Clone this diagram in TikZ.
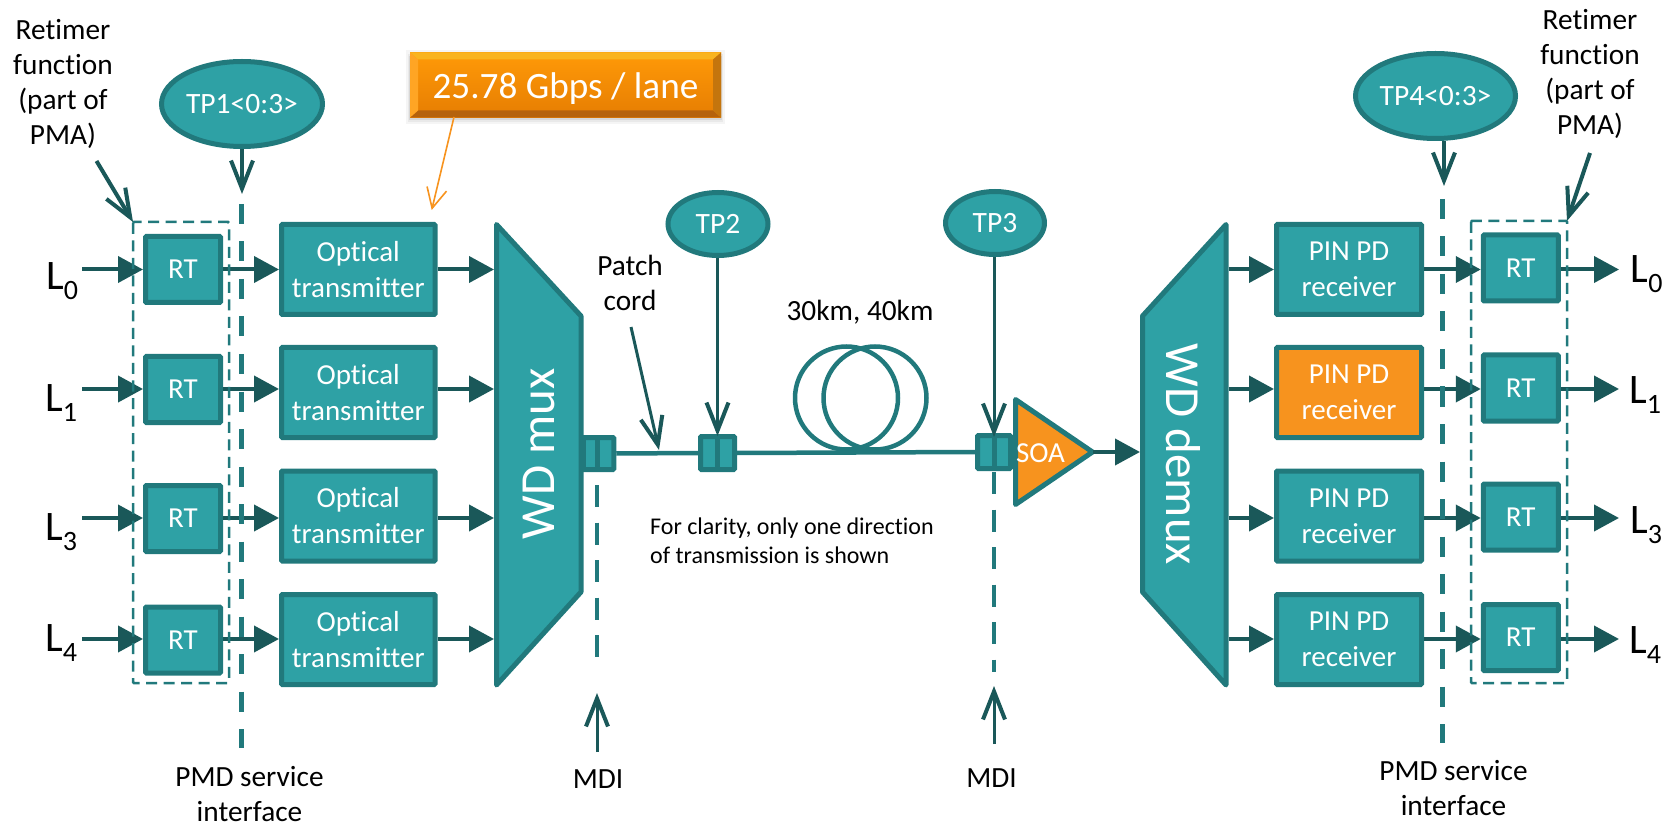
\documentclass[tikz,border=0pt]{standalone}
\usepackage{fontspec}
\setmainfont{Carlito}[Ligatures={NoCommon}]
\usetikzlibrary{arrows.meta,calc,shapes.geometric}
\definecolor{tealfill}{HTML}{2EA1A5}
\definecolor{tealline}{HTML}{21797C}
\definecolor{tealdark}{HTML}{1A5859}
\definecolor{orangefill}{HTML}{F7931E}
\definecolor{rateTop}{HTML}{FF9A08}
\definecolor{rateBot}{HTML}{E67D02}
\definecolor{bevelT}{HTML}{F9B41F}
\definecolor{bevelB}{HTML}{B5620C}
\definecolor{bevelL}{HTML}{FFA524}
\definecolor{bevelR}{HTML}{C4750D}
\newcommand{\fs}[2]{\fontsize{#1}{#2}\selectfont}
\newcommand{\Lab}[1]{L\raisebox{-10pt}{\fs{28}{28}#1}}
\tikzset{
  blockbase/.style={draw=tealline,line width=5pt,fill=tealfill,rounded corners=1pt,text=white,inner sep=0pt,align=center,font=\fs{29}{36}},
  rtbox/.style={blockbase,minimum width=75pt,minimum height=66pt},
  optbox/.style={blockbase,minimum width=153.5pt,minimum height=90pt},
  pinbox/.style={blockbase,minimum width=145pt,minimum height=90pt},
  fibrebox/.style={draw=tealline,line width=5pt,fill=tealfill,rounded corners=1pt,inner sep=0pt},
  tpoval/.style={ellipse,draw=tealline,line width=5pt,fill=tealfill,text=white,inner sep=0pt,font=\fs{29.5}{34}},
  flow/.style={draw=tealdark,line width=4pt,-{Triangle[length=25pt,width=26pt]}},
  pointer/.style={draw=tealdark,line width=4pt,-{Straight Barb[length=28pt,width=22pt,line width=4pt]}},
  thickdash/.style={draw=tealline,line width=5.5pt,dash pattern=on 20pt off 17.5pt},
  mdidash/.style={draw=tealline,line width=4.5pt,dash pattern=on 22pt off 15.5pt},
  boxdash/.style={draw=tealline,line width=2.5pt,dash pattern=on 11pt off 6.5pt},
  fibre/.style={draw=tealline,line width=4.5pt},
  wdtext/.style={text=white,font=\fs{49}{55}},
  plain/.style={text=black,align=center,inner sep=0pt,font=\fs{29.3}{35}},
  laneL/.style={text=black,anchor=base west,inner sep=0pt,font=\fs{42}{42}},
}
\begin{document}
\begin{tikzpicture}[x=1pt,y=-1pt]
\useasboundingbox (0,0) rectangle (1666,826);
% rows
\coordinate (row0) at (0,269.5);
\coordinate (row1) at (0,389);
\coordinate (row3) at (0,518);
\coordinate (row4) at (0,639);
% left blocks
\node[rtbox] (rt0) at (183,269.5) {RT};
\node[rtbox] (rt1) at (183,389.5) {RT};
\node[rtbox] (rt3) at (183,518.5) {RT};
\node[rtbox] (rt4) at (183,640) {RT};
\node[optbox] (opt0) at (358.25,269.5) {Optical\\transmitter};
\node[optbox] (opt1) at (358.25,392.5) {Optical\\transmitter};
\node[optbox] (opt3) at (358.25,516) {Optical\\transmitter};
\node[optbox] (opt4) at (358.25,639.5) {Optical\\transmitter};
% right blocks
\node[pinbox] (pin0) at (1349,269.5) {PIN PD\\receiver};
\node[pinbox,fill=orangefill] (pin1) at (1349,392.5) {PIN PD\\receiver};
\node[pinbox] (pin3) at (1349,516) {PIN PD\\receiver};
\node[pinbox] (pin4) at (1349,639.5) {PIN PD\\receiver};
\node[rtbox] (rr0) at (1520.75,268) {RT};
\node[rtbox] (rr1) at (1520.75,388) {RT};
\node[rtbox] (rr3) at (1520.75,517) {RT};
\node[rtbox] (rr4) at (1520.75,637.5) {RT};
% mux and demux
\coordinate (muxA) at (496.5,224.5);
\coordinate (muxB) at (581,316);
\coordinate (muxC) at (581,592);
\coordinate (muxD) at (496.5,685);
\coordinate (demA) at (1226,224.5);
\coordinate (demB) at (1142.5,316);
\coordinate (demC) at (1142.5,592);
\coordinate (demD) at (1226,685);
% fibre connectors and span
\node[fibrebox,minimum width=30.5pt,minimum height=32pt] (c1) at (598.5,453.5) {};
\node[fibrebox,minimum width=34pt,minimum height=33pt] (c2) at (717.5,453) {};
\node[fibrebox,minimum width=33pt,minimum height=33pt] (c3) at (994,452) {};
\draw[draw=tealline,line width=5pt] (c1.north -| 597,0) -- (c1.south -| 597,0);
\draw[draw=tealline,line width=5pt] (c2.north) -- (c2.south);
\draw[draw=tealline,line width=5pt] (c3.north) -- (c3.south);
\draw[fibre] (c1.east) -- (c2.west);
\draw[fibre] (c2.east) -- (c3.west);
\node[circle,draw=tealline,line width=4.5pt,minimum size=103pt,inner sep=0pt] (coilA) at (846.5,398) {};
\node[circle,draw=tealline,line width=4.5pt,minimum size=103pt,inner sep=0pt] (coilB) at (875,398) {};
\draw[blockbase,rounded corners=0pt,line join=round] (muxA) -- (muxB) -- (muxC) -- (muxD) -- cycle;
\draw[blockbase,rounded corners=0pt,line join=round] (demA) -- (demB) -- (demC) -- (demD) -- cycle;
\node[wdtext,rotate=90] (muxt) at (539,454) {WD mux};
\node[wdtext,rotate=-90] (demt) at (1183,454.5) {WD demux};
% SOA
\coordinate (soaA) at (1015.5,399.5);
\coordinate (soaB) at (1015.5,504.5);
\coordinate (soaC) at (1092.5,452);
\draw[draw=tealline,fill=orangefill,line width=5pt,line join=round] (soaA) -- (soaC) -- (soaB) -- cycle;
\node[text=white,inner sep=0pt,font=\fs{29}{34}] (soa) at (1040.5,453) {SOA};
% oval labels
\node[tpoval,minimum width=161pt,minimum height=85pt] (tp1) at (242,104) {\raisebox{-2pt}{TP1<0:3>}};
\node[tpoval,minimum width=160pt,minimum height=85pt] (tp4) at (1435.5,96) {\raisebox{-2pt}{TP4<0:3>}};
\node[tpoval,minimum width=100pt,minimum height=63pt] (tp2) at (718,224) {\raisebox{-2pt}{TP2}};
\node[tpoval,minimum width=99pt,minimum height=63pt] (tp3) at (995,223) {\raisebox{-2pt}{TP3}};
% rate box
\fill[black,opacity=.04] (406,50) rectangle (725,124);
\fill[black,opacity=.05] (408,54) rectangle (723,122);
\fill[black,opacity=.08] (409,56) rectangle (722,120);
\node[minimum width=311pt,minimum height=65pt,inner sep=0pt,outer sep=0pt,top color=rateTop,bottom color=rateBot] (rate) at (565.5,85) {};
\fill[bevelT] (rate.north west) -- (rate.north east) -- ++(-8,7) -- ($(rate.north west)+(8,7)$) -- cycle;
\fill[bevelB] (rate.south west) -- (rate.south east) -- ++(-8,-7) -- ($(rate.south west)+(8,-7)$) -- cycle;
\fill[bevelL] (rate.north west) -- ++(8,7) -- ($(rate.south west)+(8,-7)$) -- (rate.south west) -- cycle;
\fill[bevelR] (rate.north east) -- ++(-8,7) -- ($(rate.south east)+(-8,-7)$) -- (rate.south east) -- cycle;
\node[text=white,inner sep=0pt,font=\fs{37.2}{45}] (ratet) at ($(rate.center)+(0,3.5)$) {25.78 Gbps / lane};
% row arrows
\coordinate (in0) at (82,269.5);
\coordinate (in1) at (82,389);
\coordinate (in3) at (82,518);
\coordinate (in4) at (82,639);
\coordinate (out0) at (1619,269.5);
\coordinate (out1) at (1619,389);
\coordinate (out3) at (1619,518);
\coordinate (out4) at (1619,639);
\foreach \r in {0,1,3,4}{
  \draw[flow] (in\r) -- (rt\r.west |- row\r);
  \draw[flow] (rt\r.east |- row\r) -- (opt\r.west |- row\r);
  \draw[flow,shorten >=2.5pt] (opt\r.east |- row\r) -- (muxA |- row\r);
  \draw[flow,shorten <=2.5pt] (demA |- row\r) -- (pin\r.west |- row\r);
  \draw[flow] (pin\r.east |- row\r) -- (rr\r.west |- row\r);
  \draw[flow] (rr\r.east |- row\r) -- (out\r);
}
\draw[flow,shorten >=2.5pt] (soaC) -- (demB |- soaC);
% dashed guides
\coordinate (lboxA) at (133,222);
\coordinate (lboxB) at (229,683);
\coordinate (rboxA) at (1471,221);
\coordinate (rboxB) at (1567,683);
\draw[boxdash,rounded corners=1pt] (lboxA) rectangle (lboxB);
\draw[boxdash,rounded corners=1pt] (rboxA) rectangle (rboxB);
\coordinate (pmdLt) at (241.5,204);
\coordinate (pmdLb) at (241.5,748);
\coordinate (pmdRt) at (1442.5,199);
\coordinate (pmdRb) at (1442.5,743);
\draw[thickdash] (pmdLt) -- (pmdLb);
\draw[thickdash] (pmdRt) -- (pmdRb);
\coordinate (mdiAt) at (597,485);
\coordinate (mdiAb) at (597,672);
\coordinate (mdiBt) at (994,472);
\coordinate (mdiBb) at (994,672);
\draw[mdidash] (mdiAt) -- (mdiAb);
\draw[mdidash] (mdiBt) -- (mdiBb);
% pointer arrows
\coordinate (tp1tip) at (242,194);
\coordinate (tp4tip) at (1444,186);
\draw[pointer] (tp1tip |- tp1.south) -- (tp1tip);
\draw[pointer] (tp4tip |- tp4.south) -- (tp4tip);
\coordinate (tp2tip) at (717.5,436);
\coordinate (tp3tip) at (994,437);
\draw[pointer,line width=3pt] (tp2tip |- tp2.south) -- (tp2tip);
\draw[pointer,line width=3pt] (tp3tip |- tp3.south) -- (tp3tip);
\coordinate (patchA) at (631,327);
\coordinate (patchB) at (659,450);
\draw[pointer,line width=3pt] (patchA) -- (patchB);
\coordinate (retLa) at (96.5,161);
\draw[pointer] (retLa) -- (lboxA);
\coordinate (retRa) at (1590,153);
\coordinate (retRb) at (1567,221);
\draw[pointer] (retRa) -- (retRb);
\coordinate (mdiAs) at (597,752);
\coordinate (mdiAe) at (597,693);
\coordinate (mdiBs) at (994,744);
\coordinate (mdiBe) at (994,686);
\draw[pointer,line width=3pt] (mdiAs) -- (mdiAe);
\draw[pointer,line width=3pt] (mdiBs) -- (mdiBe);
\coordinate (rateFoot) at (454,117);
\coordinate (rateTip) at (431.7,210);
\draw[draw=orangefill,line width=1.6pt,-{Straight Barb[length=20pt,width=20pt,line width=1.6pt]}] (rateFoot) -- (rateTip);
% text
\node[plain] (retL) at (63,84) {Retimer\\function\\(part of\\PMA)};
\node[plain] (retR) at (1590,74) {Retimer\\function\\(part of\\PMA)};
\node[plain] (pmdL) at (249.5,794) {PMD service\\interface};
\node[plain] (pmdR) at (1453.5,788) {PMD service\\interface};
\node[plain,anchor=base] (mdiL) at (598,788) {MDI};
\node[plain,anchor=base] (mdiR) at (991.5,787) {MDI};
\node[plain] (patch) at (630,283) {Patch\\cord};
\node[plain,anchor=base] (km) at (860,321) {30km, 40km};
\node[plain,align=left,font=\fs{24}{28.5},anchor=north west] (note) at (650,518) {For clarity, only one direction\\of transmission is shown};
\node[laneL] (L0) at (46,290) {\Lab{0}};
\node[laneL] (L1) at (45,411) {\Lab{1}};
\node[laneL] (L3) at (45,540) {\Lab{3}};
\node[laneL] (L4) at (45,651) {\Lab{4}};
\node[laneL] (R0) at (1630.5,283) {\Lab{0}};
\node[laneL] (R1) at (1629,403) {\Lab{1}};
\node[laneL] (R3) at (1630,533) {\Lab{3}};
\node[laneL] (R4) at (1629,653) {\Lab{4}};
\end{tikzpicture}
\end{document}
